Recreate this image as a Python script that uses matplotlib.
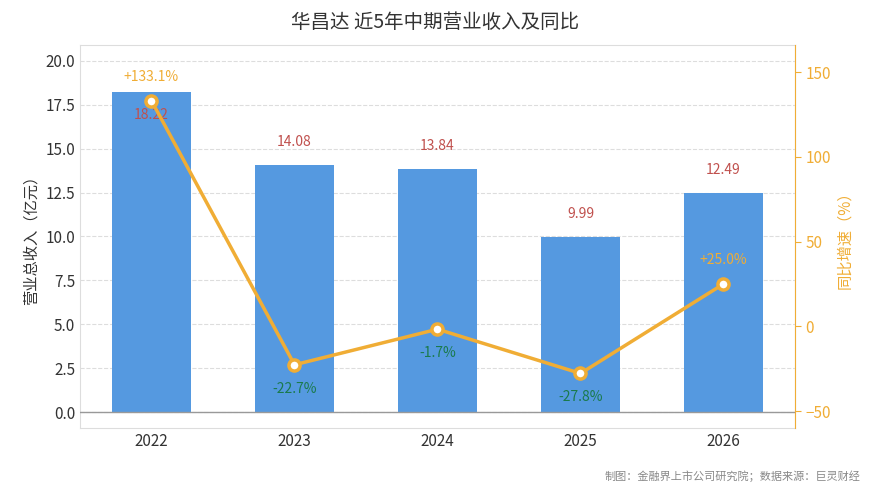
import matplotlib
matplotlib.use("Agg")
import matplotlib.pyplot as plt

plt.rcParams['font.family'] = ['Noto Sans CJK SC', 'DejaVu Sans']

years = ["2022", "2023", "2024", "2025", "2026"]
revenue = [18.22, 14.08, 13.84, 9.99, 12.49]
yoy = [133.1, -22.7, -1.7, -27.8, 25.0]

fig = plt.figure(figsize=(8.7, 4.94), dpi=100)
ax = fig.add_axes([80/870, 1-428/494, 715/870, 383/494])
x = list(range(len(years)))
ax.bar(x, revenue, width=0.55, color='#5599e0', zorder=2)
ax.set_xlim(-0.5, 4.5)
ax.set_ylim(-0.9, 20.9)
ax.set_yticks([0, 2.5, 5, 7.5, 10, 12.5, 15, 17.5, 20])
ax.set_yticklabels([f"{v:.1f}" for v in [0, 2.5, 5, 7.5, 10, 12.5, 15, 17.5, 20]])
ax.set_xticks(x)
ax.set_xticklabels(years)
ax.tick_params(labelsize=11, colors='#333333', length=0)
ax.grid(axis='y', linestyle='--', color='#dddddd', zorder=0)
ax.axhline(0, color='#999999', lw=1, zorder=3)
ax.set_ylabel("营业总收入（亿元）", fontsize=11, color='#333333')
for s in ['top', 'right', 'left', 'bottom']:
    ax.spines[s].set_color('#dddddd')
for i, v in enumerate(revenue):
    if i == 0:
        ax.text(i, v - 0.9, f"{v:.2f}", ha='center', va='top', color='#c0504d', fontsize=10, zorder=5)
    else:
        ax.text(i, v + 0.9, f"{v:.2f}", ha='center', va='bottom', color='#c0504d', fontsize=10, zorder=5)

ax2 = ax.twinx()
ax2.set_ylim(-60, 166)
ax2.plot(x, yoy, color='#f0ad35', lw=2.5, marker='o', ms=8, mfc='white', mec='#f0ad35', mew=2.5, zorder=4)
ax2.set_yticks([-50, 0, 50, 100, 150])
ax2.tick_params(labelsize=11, colors='#f0ad35', length=4)
ax2.set_ylabel("同比增速（%）", fontsize=11, color='#f0ad35')
for s in ['top', 'left', 'bottom']:
    ax2.spines[s].set_visible(False)
ax2.spines['right'].set_color('#f0ad35')
for i, v in enumerate(yoy):
    if v >= 0:
        ax2.text(i, v + 10, f"+{v:.1f}%", ha='center', va='bottom', color='#f0ad35', fontsize=10)
    else:
        ax2.text(i, v - 10, f"{v:.1f}%", ha='center', va='top', color='#1a7a4c', fontsize=10)

fig.text(435/870, 1-22/494, "华昌达 近5年中期营业收入及同比", ha='center', va='center', fontsize=14, color='#333333')
fig.text(860/870, 1-476/494, "制图：金融界上市公司研究院；数据来源：巨灵财经", ha='right', va='center', fontsize=8, color='#888888')
fig.savefig("out.png", dpi=100)
